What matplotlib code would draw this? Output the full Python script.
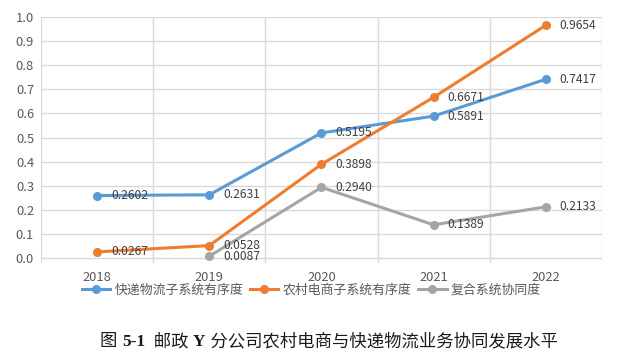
import matplotlib
matplotlib.use("Agg")
import matplotlib.pyplot as plt
import numpy as np

plt.rcParams['font.family'] = ['Noto Sans CJK SC', 'DejaVu Sans']

years = ["2018", "2019", "2020", "2021", "2022"]
express = [0.2602, 0.2631, 0.5195, 0.5891, 0.7417]
rural = [0.0267, 0.0528, 0.3898, 0.6671, 0.9654]
combined = [np.nan, 0.0087, 0.2940, 0.1389, 0.2133]

series = [
    ("快递物流子系统有序度", express, "#5B9BD5"),
    ("农村电商子系统有序度", rural, "#ED7D31"),
    ("复合系统协同度", combined, "#A5A5A5"),
]

# caption pieces: (text, bold)
caption = [("图 ", False), ("5-1", True), ("  邮政 ", False), ("Y", True),
           (" 分公司农村电商与快递物流业务协同发展水平", False)]

fig = plt.figure(figsize=(6.41, 3.60), dpi=100)
ax = fig.add_axes([0.064, 0.269, 0.875, 0.684])

x = np.arange(len(years))
for name, vals, color in series:
    ax.plot(x, vals, color=color, lw=2.2, marker="o", markersize=5.5, label=name)
    for xi, v in zip(x, vals):
        if np.isnan(v):
            continue
        ax.annotate(f"{v:.4f}", (xi, v), xytext=(10, 0), textcoords="offset points",
                    ha="left", va="center", fontsize=8.7, color="#404040")

ax.set_xlim(-0.5, len(years) - 0.5)
ax.set_ylim(-0.02, 1.0)
ax.set_yticks(np.arange(0, 1.01, 0.1))
ax.set_yticklabels([f"{t:.1f}" for t in np.arange(0, 1.01, 0.1)])
ax.set_xticks(x)
ax.set_xticklabels(years)
ax.set_xticks(np.arange(-0.5, len(years)), minor=True)

ax.grid(True, axis="y", which="major", color="#D9D9D9", lw=1)
ax.grid(True, axis="x", which="minor", color="#D9D9D9", lw=1)
ax.set_axisbelow(True)
for s in ax.spines.values():
    s.set_visible(False)
ax.tick_params(which="both", length=0, colors="#595959", labelsize=9.3)
ax.tick_params(axis="y", pad=5)
ax.tick_params(axis="x", pad=6)

fig.legend(loc="center", bbox_to_anchor=(0.486, 0.194), ncol=3, frameon=False,
           fontsize=9.3, labelcolor="#595959", handlelength=2.2,
           columnspacing=0.5, handletextpad=0.35)

# caption drawn piece by piece so the numbers can be bold
fig.canvas.draw()
r = fig.canvas.get_renderer()
parts = []
for txt, bold in caption:
    t = fig.text(0, 0.05, txt, ha="left", va="center", fontsize=12.5, color="#1a1a1a",
                 fontweight="bold" if bold else "normal",
                 family=["Liberation Serif", "Noto Sans CJK SC"])
    parts.append(t)
widths = [t.get_window_extent(r).width for t in parts]
total = sum(widths)
xpos = 0.513 * fig.bbox.width - total / 2
for t, w in zip(parts, widths):
    t.set_x(xpos / fig.bbox.width)
    xpos += w

fig.savefig("out.png", dpi=100)
